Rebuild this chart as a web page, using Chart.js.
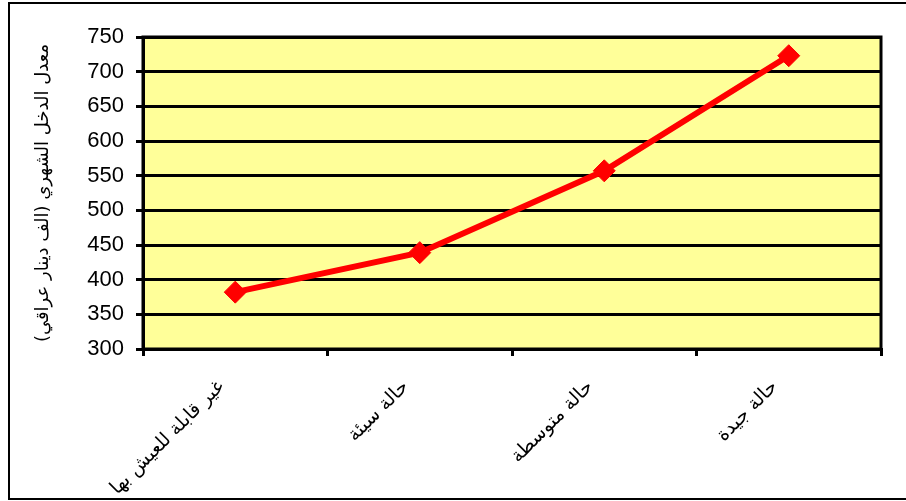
<!DOCTYPE html>
<html>
<head>
<meta charset="utf-8">
<script src="https://cdn.jsdelivr.net/npm/chart.js@4/dist/chart.umd.min.js"></script>
<style>
  html, body { margin: 0; padding: 0; background: #fff; }
  #wrap { width: 906px; height: 501px; }
</style>
</head>
<body>
<div id="wrap"><canvas id="myChart" width="906" height="501"></canvas></div>
<script>
const labels = ['غير قابلة للعيش بها', 'حالة سيئة', 'حالة متوسطة', 'حالة جيدة'];
const income = [382, 439, 557, 723];
const yMin = 300;
const yMax = 750;
const yStep = 50;
const yTitle = 'معدل الدخل الشهري (الف دينار عراقي)';

// yellow plot background + black frame, and the outer box round the whole chart
const framePlugin = {
    id: 'frame',
    beforeDraw(chart) {
        const { ctx, chartArea: a } = chart;
        ctx.save();
        ctx.fillStyle = '#FFFF99';
        ctx.fillRect(a.left, a.top, a.right - a.left, a.bottom - a.top);
        ctx.strokeStyle = '#000';
        ctx.lineWidth = 2;
        ctx.strokeRect(9, 3, 920, 496);
        ctx.restore();
    },
    beforeDatasetsDraw(chart) {
        const { ctx, chartArea: a } = chart;
        ctx.save();
        ctx.strokeStyle = '#000';
        ctx.lineWidth = 3;
        ctx.strokeRect(a.left, a.top, a.right - a.left, a.bottom - a.top);
        ctx.restore();
    }
};

const data = {
    labels: labels,
    datasets: [{
        data: income,
        borderColor: '#FF0000',
        backgroundColor: '#FF0000',
        borderWidth: 6,
        pointStyle: 'rectRot',
        pointRadius: 11,
        pointBorderWidth: 1,
        tension: 0
    }]
};

const config = {
    type: 'line',
    data: data,
    plugins: [framePlugin],
    options: {
        responsive: false,
        animation: false,
        layout: { padding: { top: 37, right: 25, left: 0, bottom: 0 } },
        plugins: { legend: { display: false }, tooltip: { enabled: false } },
        scales: {
            x: {
                offset: true,
                afterFit(scale) { scale.height = 152; },
                grid: { offset: true, drawOnChartArea: false, color: '#000', lineWidth: 3, tickLength: 7 },
                border: { color: '#000', width: 3 },
                ticks: {
                    minRotation: 45, maxRotation: 45, autoSkip: false,
                    color: '#000', padding: 20, labelOffset: -14,
                    font: { family: 'DejaVu Sans', size: 19 }
                }
            },
            y: {
                min: yMin, max: yMax,
                afterFit(scale) { scale.width = 143; },
                grid: { color: '#000', lineWidth: 3, tickLength: 7 },
                border: { color: '#000', width: 3 },
                ticks: {
                    stepSize: yStep, color: '#000', padding: 12,
                    font: { family: 'Liberation Sans', size: 22 }
                },
                title: {
                    display: true, text: yTitle, color: '#000',
                    padding: { top: 33, bottom: 0 },
                    font: { family: 'DejaVu Sans', size: 18 }
                }
            }
        }
    }
};

new Chart(document.getElementById('myChart'), config);
</script>
</body>
</html>
